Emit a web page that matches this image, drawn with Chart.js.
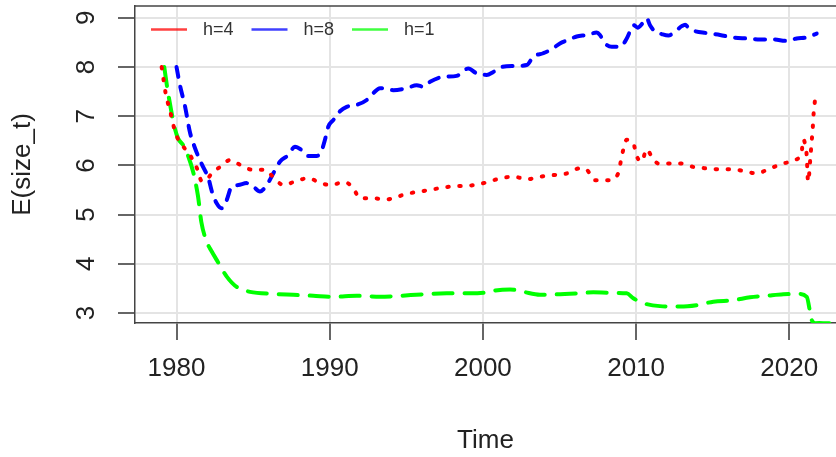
<!DOCTYPE html>
<html><head><meta charset="utf-8">
<script src="https://cdn.jsdelivr.net/npm/chart.js@4.4.1/dist/chart.umd.min.js"></script>
<style>html,body{margin:0;padding:0;background:#fff;}</style>
</head><body>
<canvas id="c" width="836" height="457"></canvas>
<script>
const seriesLabels = ['h=4', 'h=8', 'h=1'];
const seriesColors = ['#ff0000', '#0000ff', '#00ff00'];
const xTickValues = [1980, 1990, 2000, 2010, 2020];
const yTickValues = [3, 4, 5, 6, 7, 8, 9];
const xTitle = 'Time';
const yTitle = 'E(size_t)';

const h4Years = [1979.03,1979.15,1979.3,1979.6,1979.85,1980.0,1980.35,1980.9,1981.35,1981.65,1982.0,1982.3,1982.85,1983.5,1984.1,1985.0,1985.8,1986.2,1987.0,1987.7,1988.6,1989.4,1990.1,1990.6,1991.0,1991.5,1992.0,1992.85,1993.7,1995.0,1996.3,1997.9,1999.4,2000.3,2000.7,2001.2,2002.0,2002.9,2003.7,2004.5,2005.4,2006.33,2006.78,2007.32,2008.19,2008.84,2009.06,2009.39,2009.82,2010.05,2010.37,2010.69,2011.02,2011.45,2011.99,2012.86,2013.73,2014.61,2015.48,2016.35,2017.22,2017.87,2018.75,2019.62,2020.38,2020.81,2020.91,2021.02,2021.13,2021.23,2021.39,2021.46,2021.53,2021.59,2021.68];
const h4Values = [8.00,7.75,7.45,7.08,6.75,6.60,6.42,6.20,5.93,5.68,5.72,5.84,5.97,6.11,6.02,5.91,5.91,5.80,5.60,5.67,5.74,5.64,5.60,5.64,5.66,5.55,5.33,5.33,5.31,5.42,5.49,5.57,5.60,5.66,5.70,5.74,5.77,5.72,5.77,5.80,5.83,5.94,5.91,5.70,5.70,5.84,6.18,6.52,6.45,6.18,6.08,6.33,6.18,6.04,6.04,6.04,5.97,5.94,5.92,5.92,5.87,5.84,5.94,6.04,6.11,6.28,6.53,6.45,6.23,5.67,6.21,6.48,6.75,7.06,7.33];

const h8Years = [1980.0,1980.23,1980.55,1980.88,1981.21,1981.64,1982.08,1982.3,1982.62,1982.95,1983.28,1983.6,1984.03,1984.58,1985.01,1985.45,1985.89,1986.32,1986.76,1987.3,1987.73,1988.17,1988.6,1989.15,1989.48,1989.69,1989.91,1990.23,1990.67,1991.11,1991.76,1992.42,1992.85,1993.28,1994.15,1995.03,1995.68,1996.11,1996.55,1997.42,1998.29,1999.05,1999.6,2000.25,2000.68,2001.23,2001.98,2002.86,2003.29,2003.94,2004.49,2005.03,2005.57,2006.12,2006.78,2007.43,2007.64,2007.97,2008.41,2008.95,2009.39,2009.6,2009.85,2010.1,2010.4,2010.69,2010.91,2011.24,2011.67,2012.11,2012.54,2012.98,2013.2,2013.41,2013.74,2014.61,2015.48,2016.35,2017.22,2018.09,2018.96,2019.83,2020.48,2021.14,2021.79];
const h8Values = [8.00,7.62,7.21,6.67,6.35,6.03,5.74,5.48,5.23,5.13,5.30,5.57,5.60,5.64,5.57,5.47,5.60,5.84,6.08,6.21,6.38,6.31,6.19,6.19,6.31,6.52,6.79,6.92,7.10,7.19,7.23,7.33,7.47,7.57,7.53,7.57,7.63,7.60,7.70,7.80,7.82,7.97,7.87,7.84,7.90,8.00,8.02,8.04,8.21,8.28,8.36,8.48,8.55,8.62,8.65,8.70,8.65,8.48,8.41,8.41,8.58,8.72,8.85,8.80,8.88,8.99,8.85,8.72,8.67,8.64,8.72,8.83,8.86,8.80,8.74,8.69,8.65,8.60,8.58,8.56,8.56,8.53,8.58,8.60,8.68];

const h1Years = [1979.2,1979.4,1979.62,1979.85,1980.1,1980.44,1980.75,1981.1,1981.4,1981.62,1981.97,1982.3,1982.62,1983.28,1983.93,1984.8,1986.32,1987.62,1988.93,1990.23,1991.76,1993.28,1994.58,1996.11,1997.64,1999.16,2000.46,2000.68,2001.77,2002.64,2003.73,2004.82,2006.12,2007.21,2008.3,2009.39,2009.82,2010.47,2011.56,2012.87,2013.96,2015.04,2016.35,2017.44,2018.52,2019.61,2020.59,2021.14,2021.46,2021.7,2022.2,2023.1];
const h1Values = [8.00,7.57,7.17,6.80,6.55,6.41,6.20,5.85,5.38,4.85,4.45,4.25,4.08,3.74,3.53,3.43,3.39,3.37,3.35,3.33,3.35,3.33,3.35,3.38,3.40,3.40,3.43,3.45,3.48,3.43,3.37,3.38,3.40,3.42,3.41,3.40,3.30,3.20,3.14,3.13,3.16,3.23,3.26,3.32,3.35,3.38,3.39,3.33,2.86,2.79,2.79,2.79];

const xMin = 1977.29, xMax = 2023.05, yMin = 2.797, yMax = 9.24;

function pts(xs, ys) { return xs.map((x, i) => ({ x: x, y: ys[i] })); }

const FONT = "'Liberation Sans', Arial, Helvetica, sans-serif";
Chart.defaults.font.family = FONT;
Chart.defaults.color = '#222';

const frameLegend = {
  id: 'frameLegend',
  beforeDatasetsDraw(chart) {
    const { ctx, chartArea: a } = chart;
    ctx.save();
    ctx.strokeStyle = '#444';
    ctx.lineWidth = 1.5;
    ctx.beginPath();
    ctx.moveTo(a.left, a.top);
    ctx.lineTo(a.right, a.top);
    ctx.stroke();
    ctx.restore();
  },
  afterDraw(chart) {
    const { ctx, chartArea: a } = chart;
    ctx.save();
    ctx.font = '18px ' + FONT;
    ctx.textBaseline = 'middle';
    ctx.textAlign = 'left';
    let x = a.left + 16;
    const y = a.top + 23.5;
    chart.data.datasets.forEach((ds) => {
      ctx.strokeStyle = ds.borderColor;
      ctx.globalAlpha = 0.75;
      ctx.lineWidth = 2.5;
      ctx.beginPath();
      ctx.moveTo(x, y);
      ctx.lineTo(x + 36, y);
      ctx.stroke();
      ctx.globalAlpha = 1;
      ctx.fillStyle = '#333';
      ctx.fillText(ds.label, x + 52, y + 1);
      x += 100.5;
    });
    ctx.restore();
  }
};

new Chart(document.getElementById('c'), {
  type: 'line',
  data: {
    datasets: [
      { label: seriesLabels[0], data: pts(h4Years, h4Values), borderColor: seriesColors[0], borderWidth: 4, borderDash: [1.5, 10.5], borderCapStyle: 'round' },
      { label: seriesLabels[1], data: pts(h8Years, h8Values), borderColor: seriesColors[1], borderWidth: 4, borderDash: [10, 10], borderCapStyle: 'round' },
      { label: seriesLabels[2], data: pts(h1Years, h1Values), borderColor: seriesColors[2], borderWidth: 4, borderDash: [19, 12], borderCapStyle: 'round' }
    ]
  },
  options: {
    responsive: false,
    animation: false,
    parsing: false,
    layout: { padding: { left: 0, right: 0, top: 6, bottom: 0 } },
    elements: { point: { radius: 0 }, line: { cubicInterpolationMode: 'monotone', fill: false } },
    plugins: { legend: { display: false }, tooltip: { enabled: false } },
    scales: {
      x: {
        type: 'linear', min: xMin, max: xMax,
        afterBuildTicks: (s) => { s.ticks = xTickValues.map(v => ({ value: v })); },
        afterFit: (s) => { s.height = 134; s.paddingLeft = 0; s.paddingRight = 0; },
        ticks: { font: { size: 26 }, color: '#222', padding: 13, maxRotation: 0, callback: (v) => String(v) },
        grid: { color: '#e4e4e4', lineWidth: 2, tickLength: 17, tickColor: '#333', tickWidth: 1.5 },
        border: { display: true, color: '#444', width: 1.5 },
        title: { display: true, text: xTitle, font: { size: 26 }, color: '#222', padding: { top: 0, bottom: 1 } }
      },
      y: {
        type: 'linear', min: yMin, max: yMax,
        afterBuildTicks: (s) => { s.ticks = yTickValues.map(v => ({ value: v })); },
        afterFit: (s) => { s.width = 135; s.paddingTop = 0; s.paddingBottom = 0; },
        ticks: { font: { size: 26 }, color: '#222', padding: 24, minRotation: 90, maxRotation: 90, crossAlign: 'center', callback: (v) => String(v) },
        grid: { color: '#e4e4e4', lineWidth: 2, tickLength: 17, tickColor: '#333', tickWidth: 1.5 },
        border: { display: true, color: '#444', width: 1.5 },
        title: { display: true, text: yTitle, font: { size: 26 }, color: '#222', padding: { top: 7, bottom: 0 } }
      }
    }
  },
  plugins: [frameLegend]
});
</script>
</body></html>
